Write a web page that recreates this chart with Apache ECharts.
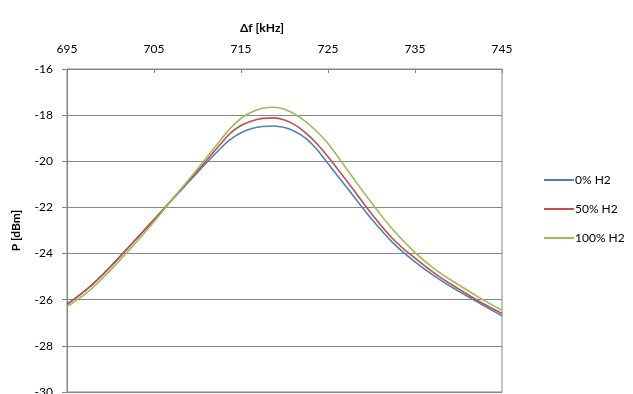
<!DOCTYPE html>
<html>
<head>
<meta charset="utf-8">
<script src="https://cdn.jsdelivr.net/npm/echarts@6/dist/echarts.min.js"></script>
<style>
html,body{margin:0;padding:0;background:#fff;overflow:hidden;}
#c{width:633px;height:394px;}
</style>
</head>
<body>
<div id="c"></div>
<script>
const seriesNames = ['0% H2', '50% H2', '100% H2'];
const xTicks = [695, 705, 715, 725, 735, 745];

const freq = [695, 697.5, 700, 702.5, 705, 707.5, 710, 712.5, 713.75, 715, 716.25, 717.5, 718.75, 720, 721.25, 722.5, 723.75, 725, 727.5, 730, 732.5, 735, 737.5, 740, 742.5, 745];
const p0 = [-26.2, -25.48, -24.57, -23.55, -22.53, -21.5, -20.48, -19.5, -19.06, -18.76, -18.58, -18.49, -18.47, -18.54, -18.72, -19.02, -19.5, -20.1, -21.3, -22.5, -23.55, -24.36, -25.04, -25.63, -26.17, -26.7];
const p50 = [-26.2, -25.48, -24.57, -23.55, -22.53, -21.47, -20.42, -19.32, -18.79, -18.45, -18.25, -18.14, -18.12, -18.21, -18.43, -18.79, -19.25, -19.8, -21.02, -22.27, -23.38, -24.2, -24.92, -25.53, -26.1, -26.6];
const p100 = [-26.3, -25.63, -24.72, -23.7, -22.62, -21.47, -20.33, -19.15, -18.58, -18.14, -17.86, -17.7, -17.66, -17.74, -17.97, -18.3, -18.72, -19.23, -20.52, -21.8, -22.98, -23.96, -24.74, -25.35, -25.93, -26.46];

const colors = ['#4F81BD', '#C0504D', '#9BBB59'];
const FONT = 'Lato';

function pairs(xs, ys) { return xs.map((x, i) => [x, ys[i]]); }
const seriesData = [pairs(freq, p0), pairs(freq, p50), pairs(freq, p100)];

const chart = echarts.init(document.getElementById('c'));
chart.setOption({
  animation: false,
  textStyle: { fontFamily: FONT },
  grid: { left: 67, right: 131, top: 69, bottom: 2, show: true, borderColor: '#868686', borderWidth: 1, containLabel: false, outerBoundsMode: 'none' },
  legend: {
    orient: 'vertical', left: 539, top: 168, itemWidth: 30, itemHeight: 2, itemGap: 15,
    icon: 'rect',
    data: seriesNames,
    textStyle: { fontFamily: FONT, fontSize: 12, lineHeight: 14, color: '#000', padding: [0, 0, 0, -4] }
  },
  graphic: [{
    type: 'text', left: 240, top: 22,
    style: { text: 'Δf [kHz]', font: 'bold 12px ' + FONT, fill: '#000' }
  }],
  xAxis: {
    type: 'value', position: 'top', min: 695, max: 745,
    axisLine: { show: true, lineStyle: { color: '#868686', width: 1 } },
    axisTick: { show: true, inside: true, length: 4, lineStyle: { color: '#868686' }, customValues: xTicks },
    axisLabel: { color: '#000', fontSize: 12, fontFamily: FONT, margin: 14, customValues: xTicks },
    splitLine: { show: false }
  },
  yAxis: {
    type: 'value', min: -30, max: -16, interval: 2,
    name: 'P [dBm]', nameLocation: 'middle', nameRotate: 90, nameGap: 45,
    nameTextStyle: { fontFamily: FONT, fontSize: 12, fontWeight: 'bold', color: '#000' },
    axisLine: { show: true, lineStyle: { color: '#868686', width: 1 } },
    axisTick: { show: true, inside: false, length: 5, lineStyle: { color: '#868686' } },
    axisLabel: { color: '#000', fontSize: 12, fontFamily: FONT, margin: 14 },
    splitLine: { show: true, lineStyle: { color: '#868686', width: 1 } }
  },
  series: seriesNames.map((n, i) => ({
    name: n, type: 'line', data: seriesData[i], smooth: 0.4, symbol: 'none', showSymbol: false,
    lineStyle: { color: colors[i], width: 1.6 }, itemStyle: { color: colors[i] }
  }))
});
</script>
</body>
</html>
